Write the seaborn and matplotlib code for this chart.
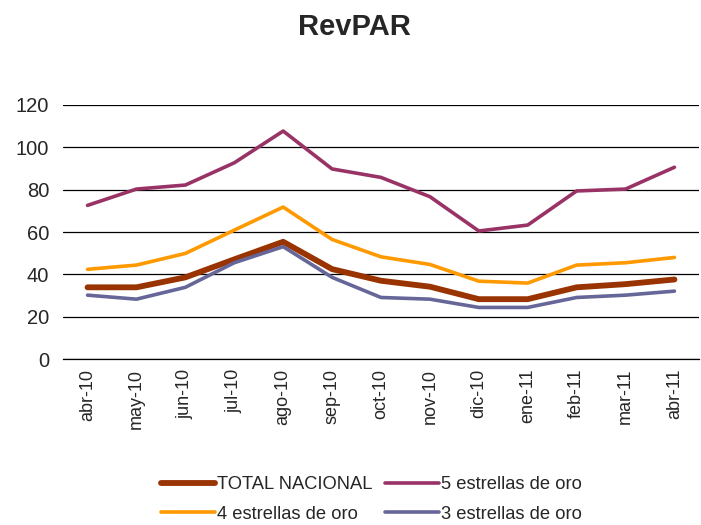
import matplotlib
matplotlib.use("Agg")
import matplotlib.pyplot as plt
import seaborn as sns
import pandas as pd
import numpy as np
from matplotlib.ticker import FixedLocator

months = ["abr-10", "may-10", "jun-10", "jul-10", "ago-10", "sep-10", "oct-10",
          "nov-10", "dic-10", "ene-11", "feb-11", "mar-11", "abr-11"]
total_nacional = [33.9, 33.9, 38.6, 47.1, 55.4, 42.5, 37.0, 34.2, 28.3, 28.3, 33.9, 35.4, 37.6]
cinco_estrellas = [72.6, 80.3, 82.2, 92.7, 107.7, 89.8, 85.8, 76.7, 60.5, 63.3, 79.4, 80.3, 90.6]
cuatro_estrellas = [42.4, 44.4, 49.9, 60.9, 71.8, 56.5, 48.3, 44.7, 36.8, 35.9, 44.4, 45.5, 48.0]
tres_estrellas = [30.2, 28.3, 33.9, 45.5, 53.1, 38.6, 29.1, 28.3, 24.4, 24.4, 29.1, 30.2, 32.1]

series_names = ["TOTAL NACIONAL", "5 estrellas de oro", "4 estrellas de oro", "3 estrellas de oro"]
series_vals = [total_nacional, cinco_estrellas, cuatro_estrellas, tres_estrellas]
colors = ["#993300", "#993366", "#FF9900", "#666699"]
widths = [4.2, 2.6, 2.6, 2.6]

rows = []
for name, vals in zip(series_names, series_vals):
    for i, (m, v) in enumerate(zip(months, vals)):
        rows.append({"idx": i, "mes": m, "serie": name, "valor": v})
df = pd.DataFrame(rows)

sns.set_style("white")
plt.rcParams['font.family'] = ['Liberation Sans', 'DejaVu Sans']

fig = plt.figure(figsize=(7.01, 5.25), dpi=100)
ax = fig.add_axes([0.09, 0.316, 0.907, 0.484])

for name, col, lw in zip(series_names, colors, widths):
    sub = df[df["serie"] == name]
    sns.lineplot(data=sub, x="idx", y="valor", ax=ax, color=col, linewidth=lw,
                 label=name, solid_capstyle="round")

ax.set_xlim(-0.5, len(months) - 0.5)
ax.set_ylim(0, 120)
ax.set_yticks(np.arange(0, 121, 20))
ax.yaxis.grid(True, color="black", linewidth=0.9)
ax.set_axisbelow(True)
ax.set_xticks(range(len(months)))
ax.set_xticklabels(months, rotation=90, fontsize=13)
ax.tick_params(axis="x", which="major", length=0, pad=7)
ax.xaxis.set_minor_locator(FixedLocator(np.arange(-0.5, len(months), 1.0)))
ax.tick_params(axis="x", which="minor", length=6, width=0.9, color="black", direction="out")
ax.tick_params(axis="y", labelsize=14.5, length=0, pad=10)
for s in ["top", "right", "left"]:
    ax.spines[s].set_visible(False)
ax.spines["bottom"].set_color("black")
ax.spines["bottom"].set_linewidth(0.9)
ax.set_xlabel("")
ax.set_ylabel("")

fig.suptitle("RevPAR", fontsize=21, fontweight="bold", x=0.506, y=0.975)

ax.legend_.remove()
handles, labels = ax.get_legend_handles_labels()
order = [0, 2, 1, 3]
leg = fig.legend([handles[i] for i in order], [labels[i] for i in order],
                 loc="lower center", bbox_to_anchor=(0.53, -0.027),
                 ncol=2, frameon=False, fontsize=13.2, handlelength=2.95,
                 handletextpad=0.1, columnspacing=0.7, labelspacing=0.68)

fig.savefig("out.png", dpi=100)
